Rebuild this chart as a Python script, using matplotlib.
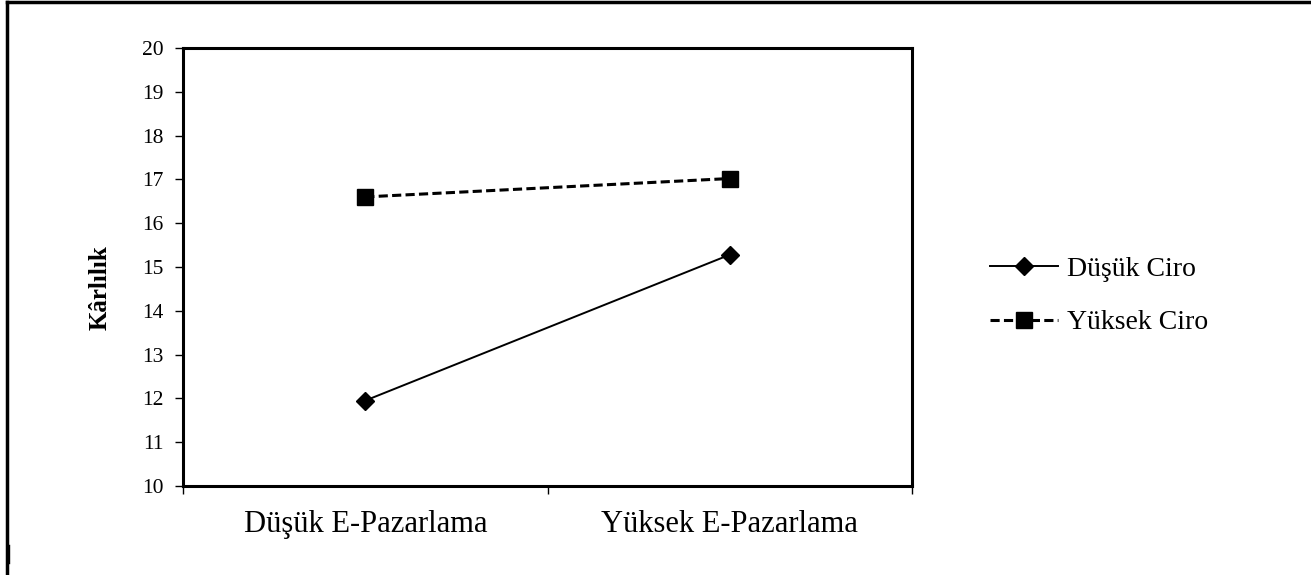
import matplotlib.pyplot as plt
from matplotlib.lines import Line2D

plt.rcParams['font.family'] = ['Liberation Serif', 'DejaVu Serif']

categories = ['Düşük E-Pazarlama', 'Yüksek E-Pazarlama']
dusuk_ciro = [11.95, 15.28]
yuksek_ciro = [16.6, 17.02]
series_names = ['Düşük Ciro', 'Yüksek Ciro']
yticks = list(range(10, 21))

W, H = 1311, 575
fig = plt.figure(figsize=(W / 100, H / 100), dpi=100)
ax = fig.add_axes([183 / W, 1 - 486 / H, (912 - 183) / W, (486 - 48) / H])

x = [0.5, 1.5]
ax.plot(x, dusuk_ciro, color='black', lw=1.4, marker='D', ms=9.5,
        label=series_names[0])
ax.plot(x, yuksek_ciro, color='black', lw=2.2, ls=(0, (3, 1.4)), marker='s',
        ms=11, label=series_names[1])

ax.set_xlim(0, 2)
ax.set_ylim(10, 20)
ax.set_yticks(yticks)
ax.set_xticks([0, 1, 2])
ax.set_xticklabels([])
ax.set_xticks(x, minor=True)
ax.set_xticklabels(categories, minor=True, fontsize=22)
ax.tick_params(axis='x', which='minor', length=0, pad=17)
ax.tick_params(axis='x', which='major', length=6, width=1, direction='out')
ax.tick_params(axis='y', length=6, width=1, direction='out', labelsize=15.5, pad=8)
for s in ax.spines.values():
    s.set_linewidth(2.2)

fig.text(100 / W, 1 - 288 / H, 'Kârlılık', fontsize=18, fontweight='bold',
         rotation=90, ha='center', va='center')

fig.legend(loc='center left', bbox_to_anchor=(965 / W, 1 - 296 / H),
           frameon=False, fontsize=20, handlelength=2.45, handletextpad=0.32,
           labelspacing=1.0)

# outer frame (top and left edges only)
fig.add_artist(Line2D([7 / W, 7 / W], [0, 1 - 2 / H], color='black', lw=2.5,
                      transform=fig.transFigure))
fig.add_artist(Line2D([7 / W, 1], [1 - 2 / H, 1 - 2 / H], color='black', lw=2.5,
                      transform=fig.transFigure))
fig.add_artist(Line2D([9 / W, 9 / W], [1 - 545 / H, 1 - 563 / H], color='black',
                      lw=1, transform=fig.transFigure))

fig.savefig('out.png', dpi=100)
